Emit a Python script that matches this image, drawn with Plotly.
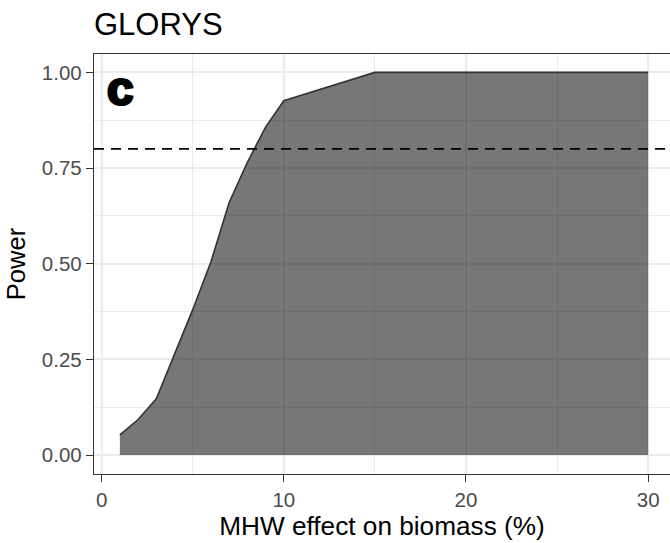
import plotly.graph_objects as go

# Data
effect_pct = [1, 2, 3, 4, 5, 6, 7, 8, 9, 10, 15, 20, 25, 30]
power = [0.053, 0.093, 0.147, 0.264, 0.38, 0.505, 0.66, 0.765, 0.857, 0.926, 1.0, 1.0, 1.0, 1.0]
threshold = 0.8
x_ticks = [0, 10, 20, 30]
y_ticks = [0.0, 0.25, 0.5, 0.75, 1.0]
y_tick_labels = ["0.00", "0.25", "0.50", "0.75", "1.00"]

fig = go.Figure()
fig.add_trace(go.Scatter(
    x=effect_pct, y=power, mode="lines", fill="tozeroy",
    fillcolor="rgba(0,0,0,0.533)",
    line=dict(color="#333333", width=1.6),
    hoverinfo="skip", showlegend=False,
))

fig.add_shape(type="line", xref="paper", x0=0, x1=1, yref="y", y0=threshold, y1=threshold,
              line=dict(color="black", width=1.8, dash="10px,7px"), layer="above")

grid = "#EBEBEB"
fig.update_layout(
    width=670, height=543,
    margin=dict(l=94, r=0, t=54, b=69, pad=0),
    paper_bgcolor="white", plot_bgcolor="white",
    font=dict(family="Liberation Sans, Arial, sans-serif", color="black"),
    title=dict(text="GLORYS", x=94/670, xanchor="left", xref="container",
               y=1 - 24/543, yanchor="middle", yref="container",
               font=dict(size=31, color="black")),
    xaxis=dict(
        range=[-0.42, 31.2], tickvals=x_ticks, ticktext=[str(v) for v in x_ticks],
        showgrid=True, gridcolor=grid, gridwidth=2,
        minor=dict(showgrid=True, dtick=5, tick0=0, gridcolor=grid, gridwidth=1.1, ticks=""),
        zeroline=False, showline=True, linecolor="#333333", linewidth=1.3, mirror=True,
        ticks="outside", ticklen=7, tickwidth=1.1, tickcolor="#333333",
        tickfont=dict(size=20.5, color="#4D4D4D"),
        title=dict(text="MHW effect on biomass (%)", font=dict(size=26.2, color="black"), standoff=6),
    ),
    yaxis=dict(
        range=[-0.0494, 1.048], tickvals=y_ticks, ticktext=y_tick_labels,
        showgrid=True, gridcolor=grid, gridwidth=2,
        minor=dict(showgrid=True, dtick=0.125, tick0=0, gridcolor=grid, gridwidth=1.1, ticks=""),
        zeroline=False, showline=True, linecolor="#333333", linewidth=1.3, mirror=False,
        ticks="outside", ticklen=7, tickwidth=1.1, tickcolor="#333333",
        tickfont=dict(size=20.5, color="#4D4D4D"),
        title=dict(text="Power", font=dict(size=25.6, color="black"), standoff=8),
    ),
)

fig.add_annotation(text="c", xref="paper", yref="paper", x=10/576, y=1 - 33.6/420,
                   xanchor="left", yanchor="middle", showarrow=False,
                   font=dict(family="Inter", size=48, color="black", weight=900))

fig.write_html("out.html")
